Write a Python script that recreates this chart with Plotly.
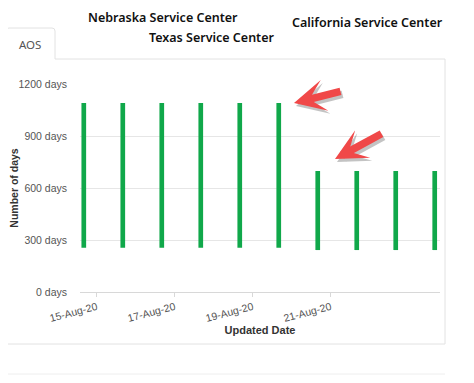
import plotly.graph_objects as go

# ---- data ----
dates = ["2020-08-14 16:00", "2020-08-15 16:00", "2020-08-16 16:00", "2020-08-17 16:00",
         "2020-08-18 16:00", "2020-08-19 16:00", "2020-08-20 16:00", "2020-08-21 16:00",
         "2020-08-22 16:00", "2020-08-23 16:00"]
low_days = [255, 255, 255, 255, 255, 255, 242, 242, 242, 242]
high_days = [1090, 1090, 1090, 1090, 1090, 1090, 698, 698, 698, 698]
tick_dates = ["2020-08-15", "2020-08-17", "2020-08-19", "2020-08-21"]
tick_text = ["15-Aug-20", "17-Aug-20", "19-Aug-20", "21-Aug-20"]
y_ticks = [0, 300, 600, 900, 1200]
y_tick_text = ["0 days", "300 days", "600 days", "900 days", "1200 days"]
center_labels = ["Nebraska Service Center", "Texas Service Center", "California Service Center"]

OFF = 8  # page body margin
W, H = 474 - 2 * OFF, 383 - 2 * OFF
L, R, T, B = 80 - OFF, 474 - 440 - OFF, 84 - OFF, 383 - 292 - OFF
PW, PH = W - L - R, H - T - B


def px(x):
    return (x - OFF - L) / PW


def py(y):
    return (H - B - (y - OFF)) / PH


fig = go.Figure()
fig.add_trace(go.Bar(
    x=dates,
    y=[h - l for h, l in zip(high_days, low_days)],
    base=low_days,
    width=[0.12 * 86400000] * len(dates),
    marker=dict(color="#10a84a", line=dict(width=0)),
    hoverinfo="skip",
))

shapes = []
grey = "#e2e2e2"
shapes.append(dict(type="path", xref="paper", yref="paper",
                   path=f"M {px(6)},{py(59)} L {px(6)},{py(31)} Q {px(6)},{py(28)} {px(9)},{py(28)} "
                        f"L {px(52)},{py(28)} Q {px(55)},{py(28)} {px(55)},{py(31)} L {px(55)},{py(59)} "
                        f"L {px(445)},{py(59)} L {px(445)},{py(344)} L {px(5)},{py(344)} L {px(5)},{py(59)}",
                   line=dict(color=grey, width=1), layer="below"))
shapes.append(dict(type="line", xref="paper", yref="paper", x0=px(5), x1=px(445),
                   y0=py(374), y1=py(374), line=dict(color="#eeeeee", width=1)))

annotations = []
title_font = dict(family="Noto Sans", size=12.5, color="#111111", weight=600)
annotations.append(dict(text=center_labels[0], x=px(163), y=py(17), xref="paper", yref="paper",
                        showarrow=False, font=title_font, xanchor="center", yanchor="middle"))
annotations.append(dict(text=center_labels[1], x=px(212), y=py(38), xref="paper", yref="paper",
                        showarrow=False, font=title_font, xanchor="center", yanchor="middle"))
annotations.append(dict(text=center_labels[2], x=px(367), y=py(23), xref="paper", yref="paper",
                        showarrow=False, font=title_font, xanchor="center", yanchor="middle"))
annotations.append(dict(text="AOS", x=px(30), y=py(44), xref="paper", yref="paper",
                        showarrow=False, font=dict(family="Noto Sans", size=11.5, color="#555555"),
                        xanchor="center", yanchor="middle"))

for (tx, ty, ax, ay) in [(294, 103, 48, -12), (335, 159, 48, -26)]:
    annotations.append(dict(x=px(tx + 2), y=py(ty + 3), xref="paper", yref="paper", text="",
                            showarrow=True, ax=ax, ay=ay, arrowhead=3, arrowsize=0.7,
                            arrowwidth=7.5, arrowcolor="rgba(60,60,60,0.3)", standoff=0))
    annotations.append(dict(x=px(tx), y=py(ty), xref="paper", yref="paper", text="",
                            showarrow=True, ax=ax, ay=ay, arrowhead=3, arrowsize=0.7,
                            arrowwidth=7.5, arrowcolor="#f04848", standoff=0))

fig.update_layout(
    width=W, height=H,
    margin=dict(l=L, r=R, t=T, b=B, pad=0, autoexpand=False),
    paper_bgcolor="white", plot_bgcolor="white",
    showlegend=False,
    shapes=shapes,
    annotations=annotations,
    font=dict(family="Liberation Sans, Arial", color="#555555"),
    xaxis=dict(
        type="date",
        range=["2020-08-14 13:40", "2020-08-23 19:15"],
        tickvals=tick_dates, ticktext=tick_text,
        tickangle=-15,
        tickfont=dict(size=10.5, color="#555555"),
        showgrid=False, zeroline=False,
        showline=True, linecolor="#d8d8d8", linewidth=1,
        ticks="outside", ticklen=4, tickcolor="#d8d8d8",
        title=dict(text="<b>Updated Date</b>", font=dict(size=11, color="#333333"), standoff=2),
    ),
    yaxis=dict(
        range=[0, 1200],
        tickvals=y_ticks, ticktext=y_tick_text,
        tickfont=dict(size=10.5, color="#555555"),
        showgrid=True, gridcolor="#e6e6e6", gridwidth=1,
        zeroline=False, showline=False,
        ticks="", ticklabelstandoff=12,
        title=dict(text="<b>Number of days</b>", font=dict(size=10.5, color="#333333"), standoff=10),
    ),
)

fig.write_html("out.html")
